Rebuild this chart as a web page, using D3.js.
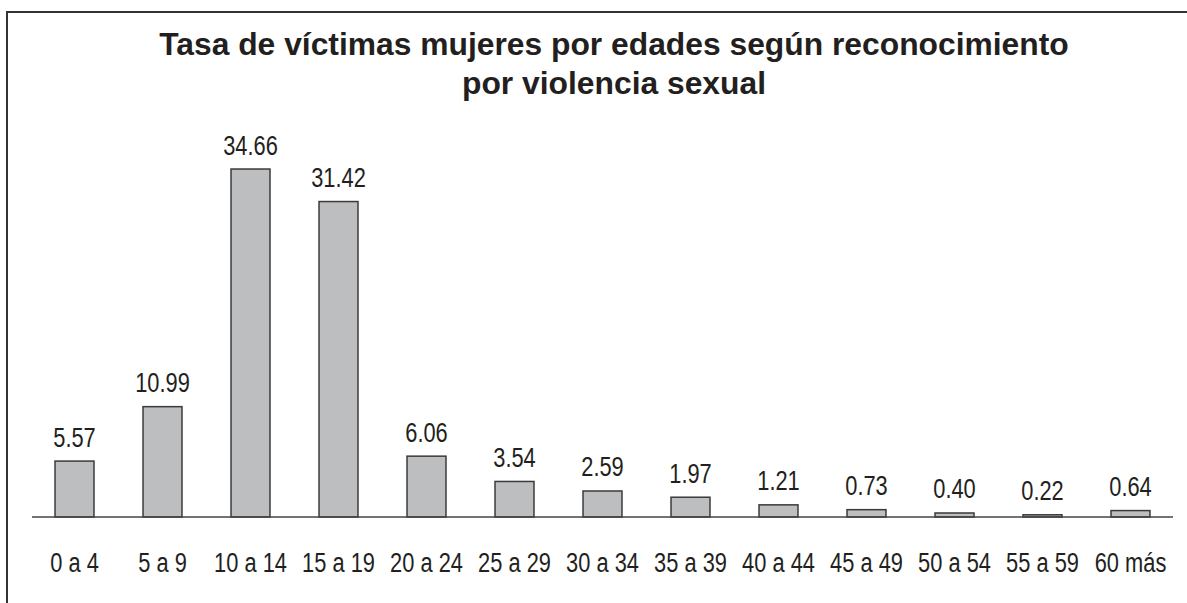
<!DOCTYPE html>
<html>
<head>
<meta charset="utf-8">
<script src="https://cdn.jsdelivr.net/npm/d3@7"></script>
<style>
  html, body { margin: 0; padding: 0; background: #fff; }
  svg { display: block; }
</style>
</head>
<body>
<div id="chart"></div>
<script>
var width = 1187;
var height = 603;

var titleLines = ["Tasa de víctimas mujeres por edades según reconocimiento", "por violencia sexual"];
var ageGroups = ["0 a 4", "5 a 9", "10 a 14", "15 a 19", "20 a 24", "25 a 29", "30 a 34",
                 "35 a 39", "40 a 44", "45 a 49", "50 a 54", "55 a 59", "60 más"];
var rates = [5.57, 10.99, 34.66, 31.42, 6.06, 3.54, 2.59, 1.97, 1.21, 0.73, 0.40, 0.22, 0.64];

var baseY = 517;
var textColor = "#231f20";
var sans = "'Liberation Sans', Arial, sans-serif";
// the source uses a condensed face; squeeze the regular one horizontally
var squeeze = 0.78;

var svg = d3.select("#chart")
            .append("svg")
            .attr("width", width)
            .attr("height", height);

// frame (only top and left edges are visible)
svg.append("path")
    .attr("d", "M7," + height + "V12H" + width)
    .attr("fill", "none")
    .attr("stroke", "#333")
    .attr("stroke-width", 2);

// title
svg.append("g")
    .selectAll("text")
    .data(titleLines)
    .join("text")
    .attr("x", 614)
    .attr("y", (d, i) => 55 + i * 39)
    .attr("text-anchor", "middle")
    .style("font-family", sans)
    .style("font-weight", "bold")
    .style("font-size", "31.8px")
    .attr("fill", textColor)
    .text(d => d);

var x = d3.scaleBand()
          .domain(ageGroups)
          .range([30.5, 1174.5])
          .paddingInner(0.557)
          .paddingOuter(0.557 / 2);

var y = d3.scaleLinear()
          .domain([0, 35])
          .range([baseY, baseY - 35 * 10.04]);

// bars
svg.append("g")
    .selectAll("rect")
    .data(rates)
    .join("rect")
    .attr("x", (d, i) => x(ageGroups[i]))
    .attr("y", d => y(d))
    .attr("width", x.bandwidth())
    .attr("height", d => y(0) - y(d))
    .attr("fill", "#bcbec0")
    .attr("stroke", "#3a3a3a")
    .attr("stroke-width", 1.5);

// baseline
var xAxis = d3.axisBottom(x).tickSize(0).tickPadding(0).tickFormat("");
svg.append("g")
    .attr("transform", "translate(0," + baseY + ")")
    .call(xAxis)
    .call(g => g.select(".domain")
                .attr("d", "M32,0H1173")
                .attr("stroke", "#444")
                .attr("stroke-width", 1.5));

// value labels
svg.append("g")
    .selectAll("text")
    .data(rates)
    .join("text")
    .attr("transform", (d, i) => "translate(" + (x(ageGroups[i]) + x.bandwidth() / 2) + "," + (y(d) - 14.5) + ") scale(" + squeeze + ",1)")
    .attr("text-anchor", "middle")
    .style("font-family", sans)
    .style("font-size", "28px")
    .attr("fill", textColor)
    .text(d => d3.format(".2f")(d));

// category labels
svg.append("g")
    .selectAll("text")
    .data(ageGroups)
    .join("text")
    .attr("transform", d => "translate(" + (x(d) + x.bandwidth() / 2) + ",572) scale(" + squeeze + ",1)")
    .attr("text-anchor", "middle")
    .style("font-family", sans)
    .style("font-size", "28px")
    .attr("fill", textColor)
    .text(d => d);
</script>
</body>
</html>
